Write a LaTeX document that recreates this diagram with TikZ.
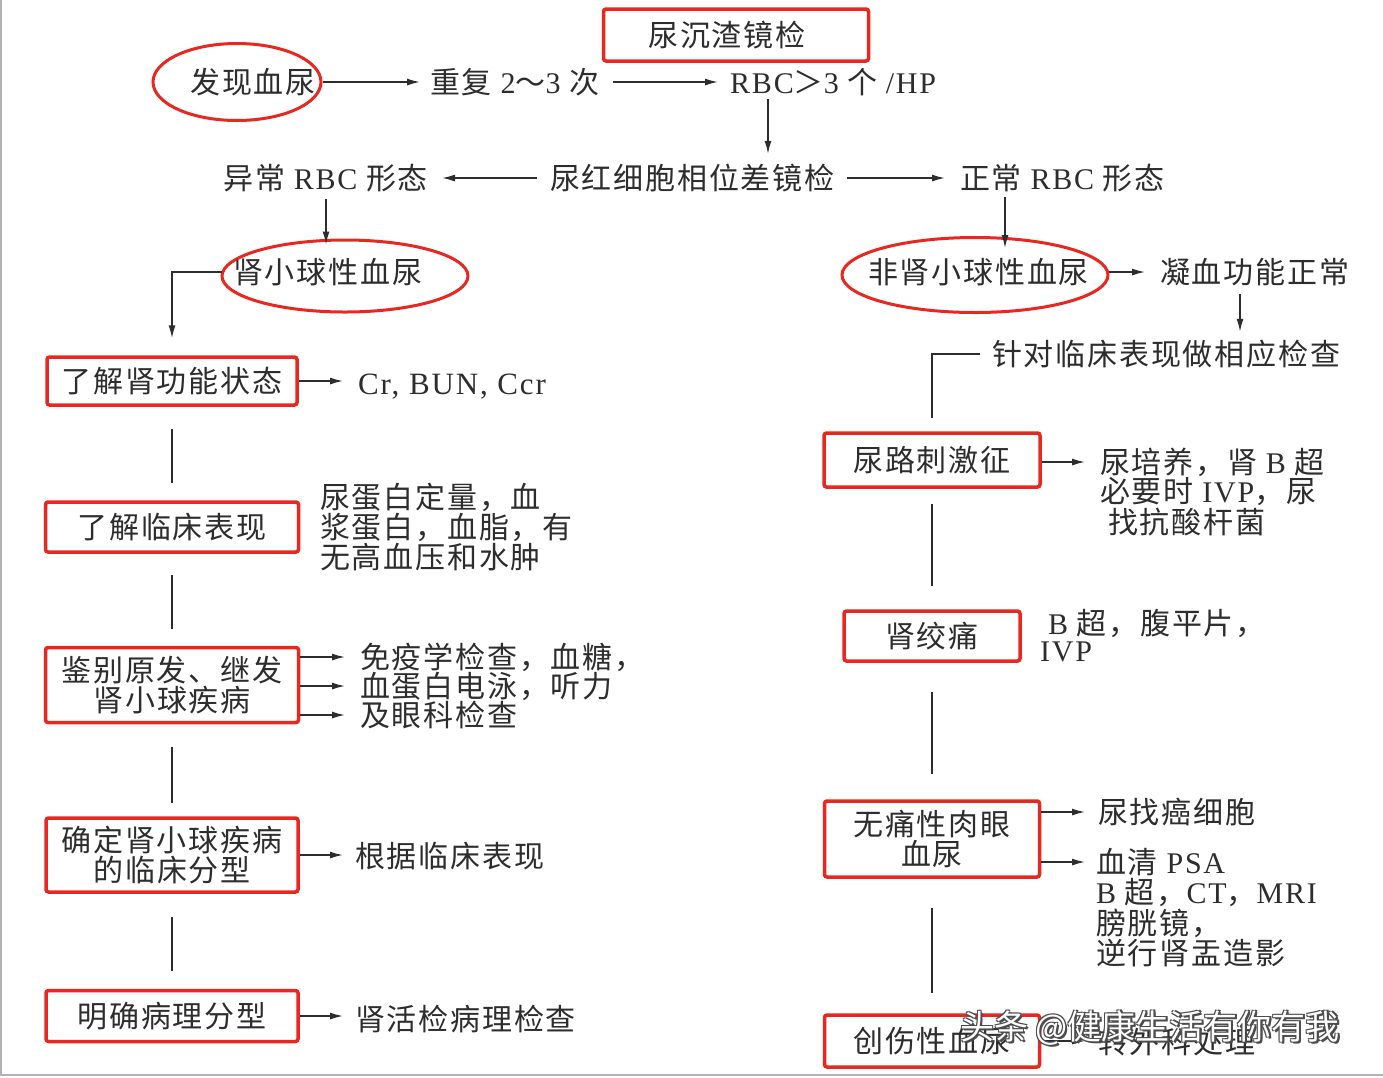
\documentclass[tikz,border=0pt]{standalone}
\usepackage{fontspec}
\setmainfont{Liberation Serif}[LetterSpace=6]
\newfontfamily\cjk{Noto Sans CJK SC}[LetterSpace=6]
\newfontfamily\wmfont{Noto Sans CJK SC}
\usetikzlibrary{arrows.meta,shapes.geometric}
\definecolor{redc}{RGB}{232,40,32}
\definecolor{ink}{RGB}{45,45,45}
\newcommand\lat[1]{{\rmfamily #1}}
\begin{document}
\begin{tikzpicture}[x=1pt,y=-1pt,
 txt/.style={font=\cjk\fontsize{30}{30}\selectfont, text=ink, inner sep=0pt},
 box/.style={draw=redc, line width=3.5pt, rounded corners=2.5pt, align=center, text=ink, font=\cjk\fontsize{30}{30}\selectfont, inner sep=0pt},
 oval/.style={ellipse, draw=redc, line width=3pt, inner sep=0pt},
 arr/.style={draw=ink, line width=1.5pt, -{Latex[length=13pt,width=7pt]}},
 ln/.style={draw=ink, line width=1.5pt},
 wm/.style={font=\wmfont\fontsize{34}{34}\selectfont, inner sep=0pt, anchor=west}]
\useasboundingbox (0,0) rectangle (1383,1077);
\fill[white] (0,0) rectangle (1383,1077);
\draw[gray!60, line width=1.5pt] (1,0) -- (1,1075) -- (1383,1075);

% top
\node[oval, minimum width=168pt, minimum height=77pt] (e1) at (237,82) {};
\node[txt] (fx) at (253,82) {发现血尿};
\node[box, minimum width=265pt, minimum height=52pt] (top) at (736,35) {尿沉渣镜检\hspace*{18pt}};
\node[txt, anchor=west] (cf) at (430,82) {重复 \lat{2}～\lat{3} 次};
\node[txt, anchor=west] (rbc) at (730,82) {\lat{RBC}＞\lat{3} 个 \lat{/HP}};
\node[txt, anchor=west] (xw) at (550,178) {尿红细胞相位差镜检};
\node[txt, anchor=east] (yc) at (428,178) {异常 \lat{RBC} 形态};
\node[txt, anchor=west] (zc) at (960,178) {正常 \lat{RBC} 形态};
\node[oval, minimum width=246pt, minimum height=72pt] (e2) at (345,276) {};
\node[txt, anchor=west] (gx) at (233,272) {肾小球性血尿};
\node[oval, minimum width=266pt, minimum height=75pt] (e3) at (975,275) {};
\node[txt, anchor=west] (fgx) at (868,272) {非肾小球性血尿};
\node[txt, anchor=west] (nx) at (1160,272) {凝血功能正常};
\node[txt, anchor=west] (zd) at (992,354) {针对临床表现做相应检查};

% left column
\node[box, minimum width=250pt, minimum height=48pt] (b1) at (172,381) {了解肾功能状态};
\node[txt, anchor=west, font=\rmfamily\fontsize{31}{31}\selectfont] (cr) at (358,387) {Cr, BUN, Ccr};
\node[box, minimum width=253pt, minimum height=50pt] (b2) at (172,527) {了解临床表现};
\node[txt, anchor=west, align=left] (lc) at (320,527) {尿蛋白定量，血\\浆蛋白，血脂，有\\无高血压和水肿};
\node[box, minimum width=253pt, minimum height=75pt] (b3) at (172,685) {鉴别原发、继发\\肾小球疾病};
\node[txt, anchor=west] (m1) at (360,657) {免疫学检查，血糖，};
\node[txt, anchor=west] (m2) at (360,686) {血蛋白电泳，听力};
\node[txt, anchor=west] (m3) at (360,715) {及眼科检查};
\node[box, minimum width=252pt, minimum height=74pt] (b4) at (172,855) {确定肾小球疾病\\的临床分型};
\node[txt, anchor=west] (k4) at (355,856) {根据临床表现};
\node[box, minimum width=252pt, minimum height=51pt] (b5) at (172,1016) {明确病理分型};
\node[txt, anchor=west] (k5) at (355,1019) {肾活检病理检查};

% right column
\node[box, minimum width=216pt, minimum height=54pt] (r1) at (932,460) {尿路刺激征};
\node[txt, anchor=west] (q1) at (1100,462) {尿培养，肾 \lat{B} 超};
\node[txt, anchor=west] (q2) at (1100,492) {必要时 \lat{IVP}，尿};
\node[txt, anchor=west] (q3) at (1108,522) {找抗酸杆菌};
\node[box, minimum width=176pt, minimum height=50pt] (r2) at (932,636) {肾绞痛};
\node[txt, anchor=west] (s1) at (1048,623) {\lat{B} 超，腹平片，};
\node[txt, anchor=west] (s2) at (1040,652) {\lat{IVP}};
\node[box, minimum width=215pt, minimum height=76pt] (r3) at (932,839) {无痛性肉眼\\血尿};
\node[txt, anchor=west] (u1) at (1098,812) {尿找癌细胞};
\node[txt, anchor=west] (u2) at (1096,862) {血清 \lat{PSA}};
\node[txt, anchor=west] (u3) at (1096,892) {\lat{B} 超，\lat{CT}，\lat{MRI}};
\node[txt, anchor=west] (u4) at (1096,923) {膀胱镜，};
\node[txt, anchor=west] (u5) at (1096,953) {逆行肾盂造影};
\node[box, minimum width=215pt, minimum height=52pt] (r4) at (932,1041) {创伤性血尿};
\node[txt, anchor=west] (w4) at (1098,1042) {转外科处理};

% connectors top
\draw[arr, shorten >=10pt] (e1.east) -- (cf.west);
\draw[arr, shorten <=14pt, shorten >=12pt] (cf.east) -- (rbc.west);
\draw[arr, shorten <=3pt, shorten >=10pt] (768,0 |- rbc.south) -- (768,0 |- xw.north);
\draw[arr, shorten <=13pt, shorten >=14pt] (xw.west) -- (yc.east);
\draw[arr, shorten <=12pt, shorten >=15pt] (xw.east) -- (zc.west);
\draw[arr, shorten <=7pt, shorten >=-6pt] (326,0 |- yc.south) -- (326,0 |- e2.north);
\draw[arr, shorten <=5pt, shorten >=-12pt] (1005,0 |- zc.south) -- (1005,0 |- e3.north);
\draw[arr, shorten <=20pt, shorten >=15pt] (fgx.east) -- (nx.west);
\draw[arr, shorten <=8pt, shorten >=8pt] (1240,0 |- nx.south) -- (1240,0 |- zd.north);
\draw[arr, shorten <=11pt, shorten >=17pt] (gx.west) -| (b1.north);
\draw[ln, shorten <=12pt, shorten >=13pt] (zd.west) -| (r1.north);

% left connectors
\draw[arr, shorten >=15pt] (b1.east) -- (b1.east -| cr.west);
\draw[arr, shorten >=15pt] (b3.east |- m1.west) -- (m1.west);
\draw[arr, shorten >=15pt] (b3.east |- m2.west) -- (m2.west);
\draw[arr, shorten >=15pt] (b3.east |- m3.west) -- (m3.west);
\draw[arr, shorten >=12pt] (b4.east) -- (b4.east -| k4.west);
\draw[arr, shorten >=12pt] (b5.east) -- (b5.east -| k5.west);
\draw[ln, shorten <=22pt, shorten >=17pt] (b1.south) -- (b2.north);
\draw[ln, shorten <=21pt, shorten >=17pt] (b2.south) -- (b3.north);
\draw[ln, shorten <=23pt, shorten >=13pt] (b3.south) -- (b4.north);
\draw[ln, shorten <=23pt, shorten >=18pt] (b4.south) -- (b5.north);

% right connectors
\draw[arr, shorten >=15pt] (r1.east |- q1.west) -- (q1.west);
\draw[arr, shorten >=13pt] (r3.east |- u1.west) -- (u1.west);
\draw[arr, shorten >=11pt] (r3.east |- u2.west) -- (u2.west);
\draw[arr, shorten >=13pt] (r4.east) -- (r4.east -| w4.west);
\draw[ln, shorten <=15pt, shorten >=23pt] (r1.south) -- (r2.north);
\draw[ln, shorten <=29pt, shorten >=25pt] (r2.south) -- (r3.north);
\draw[ln, shorten <=29pt, shorten >=20pt] (r3.south) -- (r4.north);

% watermark
\foreach \i/\dx/\dy in {1/1.2/1.2, 2/-1/1.2, 3/1.2/-1, 4/-1/-1, 5/2/2}
  \node[wm, text=black!70] (wms\i) at (960+\dx,1028+\dy) {头条 @健康生活有你有我};
\node[wm, text=white] (wmk) at (960,1028) {头条 @健康生活有你有我};
\end{tikzpicture}
\end{document}
